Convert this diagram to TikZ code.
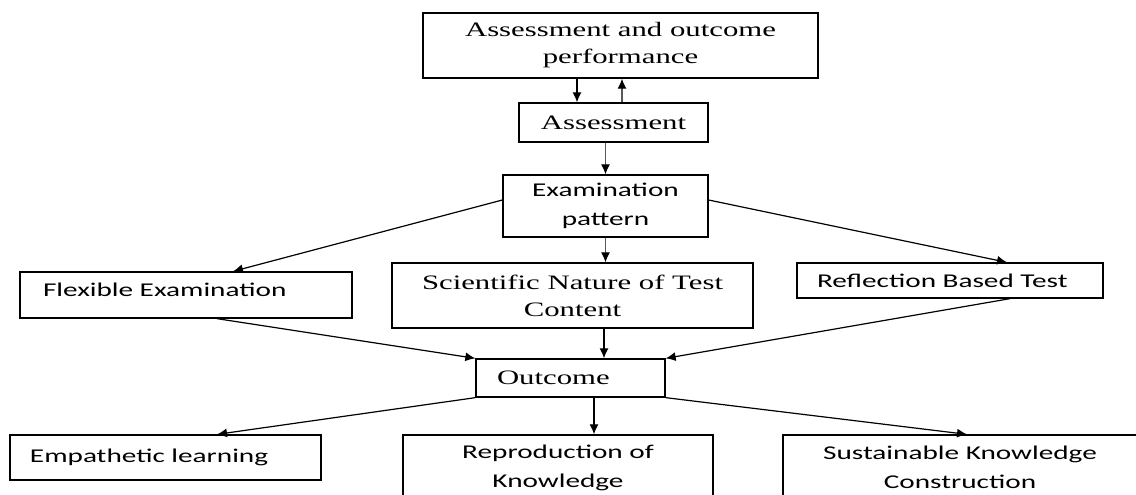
\documentclass[tikz,border=0pt]{standalone}
\usepackage{fontspec}
\usetikzlibrary{arrows.meta, positioning}
\newfontfamily\boxserif[FakeStretch=1.5]{Liberation Serif}
\newfontfamily\boxsans[FakeStretch=1.5]{Carlito}

\tikzset{
  box/.style={draw, line width=1.3pt, inner sep=0pt, align=center},
  serif/.style={font=\boxserif\fontsize{20.5}{27}\selectfont},
  sans/.style={font=\boxsans\fontsize{19.5}{29}\selectfont},
  leftbox/.style={text width=#1, align=left},
  greyline/.style={draw=gray!70!black, -{Latex[length=10pt,width=9pt,black]}},
}

\begin{document}
\begin{tikzpicture}[x=1pt, y=-1pt, >={Latex[length=10pt,width=9pt]}, line width=1.2pt]
    \useasboundingbox (0,0) rectangle (1136,495);
    \clip (0,0) rectangle (1136,495);

    \node[box, serif, minimum width=395pt, minimum height=65pt] (perf) at (620.5,45.5) {Assessment and outcome\\performance};
    \node[box, serif, minimum width=189pt, minimum height=39pt] (assess) at (613.5,122.5) {Assessment};
    \node[box, sans, minimum width=205pt, minimum height=62pt] (exam) at (605.5,206) {Examination\\pattern};
    \node[box, sans, minimum width=332pt, minimum height=46pt, inner xsep=23pt, leftbox=286pt, text depth=11pt] (flex) at (186,295) {Flexible Examination};
    \node[box, serif, minimum width=361pt, minimum height=65pt] (sci) at (572.5,295.5) {Scientific Nature of Test\\Content};
    \node[box, sans, minimum width=306pt, minimum height=35pt, inner xsep=20pt, leftbox=266pt] (refl) at (950,280.5) {Reflection Based Test};
    \node[box, serif, minimum width=189pt, minimum height=38pt, inner xsep=21pt, leftbox=147pt] (outcome) at (570.5,378) {Outcome};
    \node[box, sans, minimum width=311pt, minimum height=45pt, inner xsep=20pt, leftbox=271pt] (emp) at (165.5,457.5) {Empathetic learning};
    \node[box, sans, minimum width=310pt, minimum height=65pt] (repro) at (558,467.5) {Reproduction of\\Knowledge};
    \node[box, sans, minimum width=354pt, minimum height=65pt] (sust) at (960,467.5) {Sustainable Knowledge\\Construction};

    \path[->]
    ([xshift=-36.5pt]assess.north |- perf.south) edge ([xshift=-36.5pt]assess.north)
    ([xshift=8.5pt]assess.north) edge[greyline] ([xshift=8.5pt]assess.north |- perf.south)
    (assess.south -| exam.north) edge[greyline] (exam.north)
    ([yshift=6pt]exam.west) edge ([xshift=47pt]flex.north)
    ([yshift=6pt]exam.east) edge ([xshift=57pt]refl.north)
    (exam.south) edge[greyline] (exam.south |- sci.north)
    ([xshift=31pt]flex.south) edge (outcome.north west)
    ([xshift=33.5pt]outcome.north |- sci.south) edge ([xshift=33.5pt]outcome.north)
    ([xshift=60pt]refl.south) edge (outcome.north east)
    (outcome.south west) edge ([xshift=51.5pt]emp.north)
    ([xshift=23.5pt]outcome.south) edge ([xshift=23.5pt]outcome.south |- repro.north)
    (outcome.south east) edge ([xshift=7pt]sust.north);
\end{tikzpicture}
\end{document}
